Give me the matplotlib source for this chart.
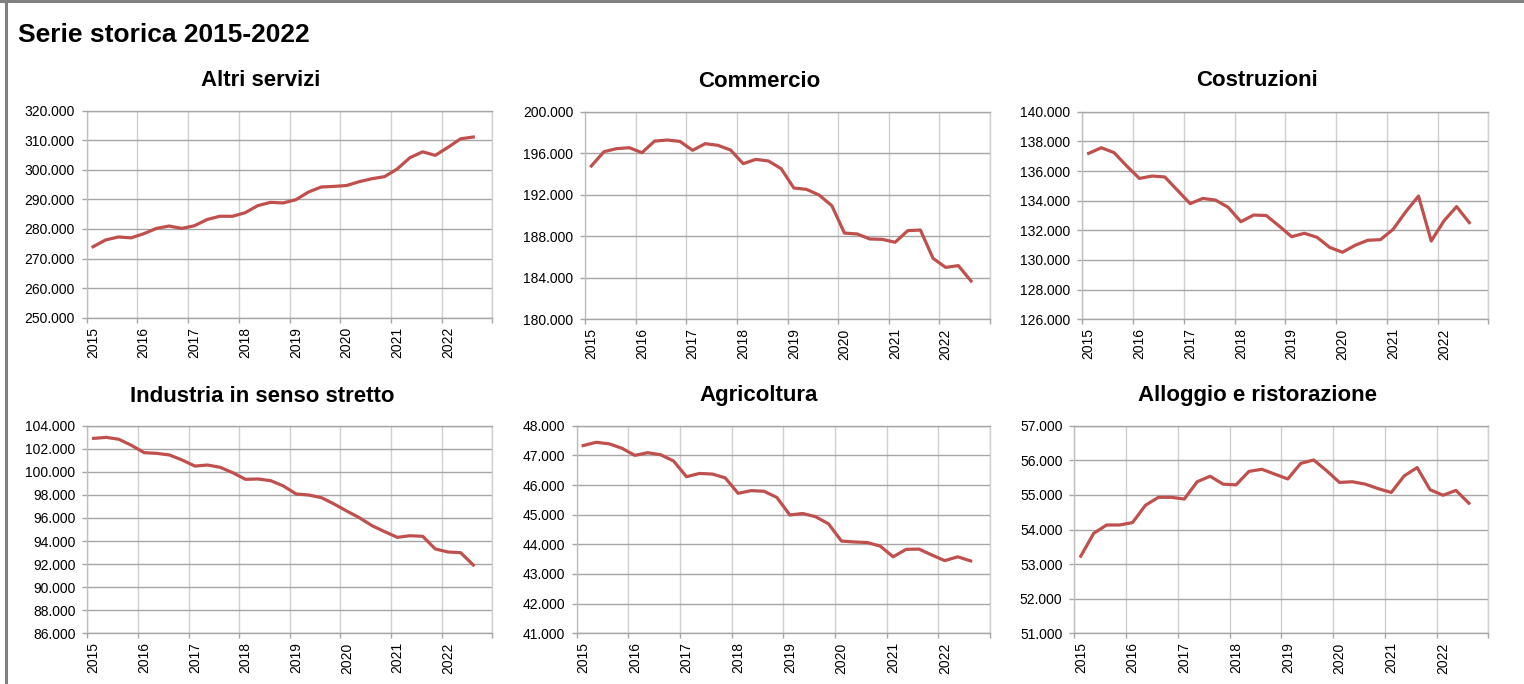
import numpy as np
import matplotlib
matplotlib.use("Agg")
import matplotlib.pyplot as plt
from matplotlib.lines import Line2D
from matplotlib.ticker import FixedLocator, FuncFormatter

plt.rcParams['font.family'] = ['Liberation Sans', 'DejaVu Sans']

# --------------------------------------------------------------------------------
# DATA (quarterly, 2015 Q1 - 2022 Q3, values in thousands)

years = ['2015', '2016', '2017', '2018', '2019', '2020', '2021', '2022']

altri_servizi = [274.0, 276.3, 277.3, 277.0, 278.4, 280.2, 281.0, 280.2, 281.1, 283.2,
                 284.3, 284.3, 285.5, 287.9, 289.0, 288.8, 289.9, 292.5, 294.2, 294.4,
                 294.7, 296.0, 297.0, 297.7, 300.3, 304.1, 306.1, 304.9, 307.6, 310.5, 311.1]
commercio = [194.77, 196.15, 196.44, 196.53, 196.05, 197.17, 197.27, 197.14, 196.28, 196.92,
             196.76, 196.31, 194.99, 195.41, 195.25, 194.51, 192.65, 192.52, 191.97, 190.95,
             188.31, 188.22, 187.74, 187.70, 187.42, 188.54, 188.60, 185.87, 185.00, 185.17, 183.69]
costruzioni = [137.19, 137.57, 137.24, 136.34, 135.50, 135.66, 135.60, 134.70, 133.80, 134.15,
               134.04, 133.55, 132.58, 133.03, 133.00, 132.30, 131.57, 131.80, 131.53, 130.85,
               130.52, 130.99, 131.33, 131.37, 132.07, 133.26, 134.31, 131.28, 132.63, 133.60, 132.52]
industria = [102.90, 102.99, 102.82, 102.29, 101.66, 101.60, 101.46, 101.02, 100.50, 100.59,
             100.39, 99.92, 99.35, 99.38, 99.23, 98.77, 98.08, 97.99, 97.76, 97.21,
             96.60, 96.02, 95.33, 94.81, 94.32, 94.46, 94.41, 93.31, 93.05, 92.99, 91.92]
agricoltura = [47.33, 47.44, 47.39, 47.24, 47.00, 47.09, 47.02, 46.81, 46.28, 46.39,
               46.37, 46.24, 45.72, 45.81, 45.79, 45.58, 44.99, 45.04, 44.93, 44.69,
               44.11, 44.08, 44.06, 43.94, 43.58, 43.83, 43.84, 43.64, 43.45, 43.58, 43.44]
alloggio = [53.23, 53.89, 54.13, 54.13, 54.20, 54.70, 54.93, 54.93, 54.88, 55.38,
            55.54, 55.31, 55.29, 55.68, 55.74, 55.60, 55.46, 55.91, 56.01, 55.70,
            55.36, 55.38, 55.31, 55.18, 55.07, 55.55, 55.79, 55.15, 54.99, 55.13, 54.76]

titles = ['Altri servizi', 'Commercio', 'Costruzioni',
          'Industria in senso stretto', 'Agricoltura', 'Alloggio e ristorazione']
series = [altri_servizi, commercio, costruzioni, industria, agricoltura, alloggio]
y_ranges = [(250, 320, 10), (180, 200, 4), (126, 140, 2),
            (86, 104, 2), (41, 48, 1), (51, 57, 1)]

# --------------------------------------------------------------------------------
# LAYOUT (pixels)

W, H = 1524, 684
boxes = [(86.7, 492.3, 110.7, 317.7), (585, 990, 111.7, 319.3), (1082.3, 1488.3, 111.7, 319.3),
         (87.3, 492.3, 425.7, 633.3), (576.7, 990, 425.7, 633.3), (1074.3, 1488.3, 425.7, 633.3)]
title_pos = [(261, 81), (759, 81.5), (1257, 81), (262, 396), (759, 396), (1257, 396)]

line_col = '#C0504D'
hgrid = '#A6A6A6'
vgrid = '#D0D0D0'

fig = plt.figure(figsize=(W / 100, H / 100), dpi=100)

# outer frame (top and left edges visible)
fig.add_artist(Line2D([0, 1], [1 - 1.2 / H, 1 - 1.2 / H], transform=fig.transFigure, color='#808080', lw=2.2))
fig.add_artist(Line2D([5.5 / W, 5.5 / W], [0, 1], transform=fig.transFigure, color='#808080', lw=2.2))

fig.text(18 / W, 1 - 35 / H, 'Serie storica 2015-2022', fontsize=19, fontweight='bold', va='center', ha='left')

n_cat = 32  # categories on the axis (last quarter empty)
x = np.arange(len(altri_servizi)) + 0.5

for k in range(6):
    l, r, t, b = boxes[k]
    ax = fig.add_axes([l / W, 1 - b / H, (r - l) / W, (b - t) / H])
    ax.plot(x, series[k], color=line_col, lw=2.3, solid_joinstyle='round', zorder=3)

    lo, hi, st = y_ranges[k]
    ax.set_ylim(lo, hi)
    ax.set_xlim(0, n_cat)
    ax.yaxis.set_major_locator(FixedLocator(np.arange(lo, hi + st / 2, st)))
    ax.yaxis.set_major_formatter(FuncFormatter(lambda v, p: f"{v * 1000:,.0f}".replace(",", ".")))

    # tick marks between categories, year labels on first quarter of each year
    ax.set_xticks(np.arange(0, n_cat + 1, 4))
    ax.set_xticklabels([])
    ax.set_xticks(np.arange(0, n_cat, 4) + 0.5, minor=True)
    ax.set_xticklabels(years, minor=True, rotation=90)

    ax.grid(axis='y', color=hgrid, lw=1)
    ax.grid(axis='x', which='major', color=vgrid, lw=1)
    ax.set_axisbelow(True)
    ax.tick_params(axis='both', which='major', direction='out', length=3.5, width=1, color='#A6A6A6',
                   labelsize=10, labelcolor='black', pad=5)
    ax.tick_params(axis='x', which='minor', length=0, labelsize=10, labelcolor='black', pad=6.5)
    ax.spines['left'].set_color('#BFBFBF')
    ax.spines['bottom'].set_color(hgrid)
    ax.spines['top'].set_color(hgrid)
    ax.spines['right'].set_color(vgrid)
    for s in ax.spines.values():
        s.set_linewidth(1)

    tx, ty = title_pos[k]
    fig.text(tx / W, 1 - ty / H, titles[k], fontsize=16, fontweight='bold', ha='center', va='center')

fig.savefig('out.png', dpi=100)
